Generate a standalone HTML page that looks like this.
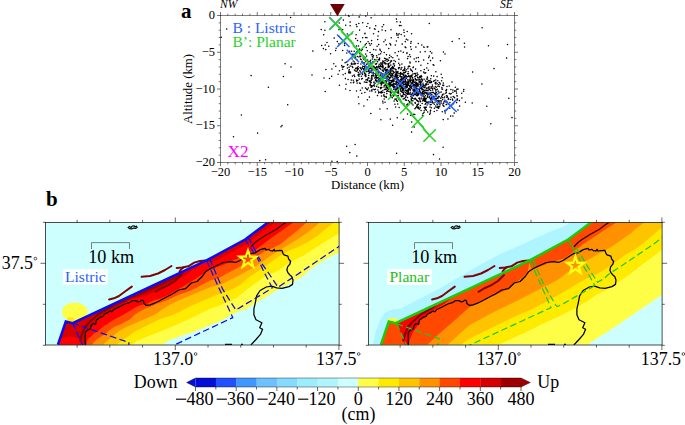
<!DOCTYPE html>
<html><head><meta charset="utf-8"><title>figure</title>
<style>
html,body{margin:0;padding:0;background:#fff;}
body{width:685px;height:425px;overflow:hidden;}
svg{display:block;}
text{font-family:"Liberation Serif",serif;}
</style></head><body>
<svg width="685" height="425" viewBox="0 0 685 425">
<rect width="685" height="425" fill="#fff"/>
<path d="M396.9 76.9h.01M395.0 84.0h.01M376.6 75.7h.01M433.0 92.2h.01M430.5 92.9h.01M413.2 86.5h.01M360.5 59.1h.01M417.2 85.2h.01M351.3 80.1h.01M376.8 78.2h.01M410.0 87.5h.01M413.8 94.7h.01M411.6 83.9h.01M390.1 62.8h.01M420.8 80.0h.01M383.1 83.3h.01M392.5 81.1h.01M419.7 88.5h.01M387.0 86.9h.01M392.2 68.3h.01M381.3 73.2h.01M408.5 100.6h.01M407.6 73.7h.01M347.4 65.0h.01M396.5 89.4h.01M415.1 89.7h.01M365.8 61.5h.01M423.0 83.2h.01M441.6 96.2h.01M401.0 95.8h.01M416.4 95.4h.01M385.9 89.4h.01M374.6 77.9h.01M429.7 114.2h.01M364.0 66.4h.01M442.4 94.5h.01M409.1 93.7h.01M375.4 63.9h.01M431.9 94.3h.01M410.0 82.9h.01M446.5 95.8h.01M417.6 84.9h.01M364.5 56.7h.01M429.2 89.7h.01M347.4 68.0h.01M418.5 107.7h.01M400.5 73.5h.01M372.4 56.7h.01M416.2 91.0h.01M412.8 82.0h.01M409.0 75.8h.01M383.1 80.2h.01M429.9 94.7h.01M381.7 66.7h.01M439.6 103.1h.01M364.9 70.3h.01M397.1 84.7h.01M436.1 107.2h.01M431.4 107.7h.01M383.2 70.3h.01M434.9 88.8h.01M411.7 86.4h.01M408.0 80.8h.01M398.3 79.7h.01M417.3 89.9h.01M424.2 87.4h.01M456.6 102.6h.01M389.4 82.4h.01M404.7 76.2h.01M394.4 77.1h.01M372.9 69.9h.01M413.4 86.1h.01M392.7 73.9h.01M407.8 91.1h.01M387.0 78.8h.01M395.8 82.0h.01M425.1 104.2h.01M403.4 75.3h.01M429.7 80.8h.01M355.6 68.6h.01M395.0 75.1h.01M426.3 107.3h.01M415.3 103.3h.01M410.6 75.9h.01M398.7 80.7h.01M423.7 91.2h.01M404.7 70.4h.01M429.0 97.4h.01M425.5 95.8h.01M407.9 79.5h.01M410.1 81.0h.01M356.5 80.0h.01M415.3 98.3h.01M369.9 85.0h.01M438.2 91.2h.01M438.2 107.2h.01M398.3 93.2h.01M427.6 79.0h.01M383.5 61.6h.01M427.8 95.8h.01M354.2 51.3h.01M397.5 87.8h.01M414.0 84.8h.01M438.6 108.2h.01M437.2 83.8h.01M440.1 100.8h.01M385.6 67.6h.01M405.5 84.1h.01M439.1 101.2h.01M355.4 57.4h.01M408.5 92.2h.01M404.5 76.9h.01M408.5 73.8h.01M403.8 74.7h.01M447.0 86.5h.01M387.0 69.5h.01M348.6 72.8h.01M353.3 54.2h.01M369.2 70.8h.01M396.8 82.0h.01M387.1 75.6h.01M449.9 102.6h.01M419.5 81.3h.01M392.7 92.1h.01M390.8 69.2h.01M356.3 71.2h.01M431.5 88.1h.01M404.9 77.3h.01M402.6 95.3h.01M358.3 72.4h.01M424.8 98.3h.01M375.5 80.6h.01M360.9 68.5h.01M371.8 68.3h.01M378.6 92.9h.01M420.4 93.8h.01M408.3 90.7h.01M425.3 86.0h.01M420.8 88.3h.01M439.7 92.6h.01M407.2 105.7h.01M430.2 82.7h.01M392.6 84.5h.01M447.9 118.9h.01M379.6 68.3h.01M451.9 104.9h.01M419.9 82.4h.01M377.6 74.9h.01M412.5 80.2h.01M400.5 85.1h.01M373.8 76.0h.01M426.1 92.5h.01M376.6 81.7h.01M420.2 86.5h.01M448.3 98.3h.01M402.0 78.9h.01M353.7 54.7h.01M408.4 93.1h.01M443.3 83.1h.01M362.5 74.4h.01M410.4 85.5h.01M388.2 87.6h.01M461.9 97.9h.01M365.9 82.2h.01M450.6 93.9h.01M453.2 96.6h.01M379.7 72.4h.01M342.1 67.0h.01M402.2 78.9h.01M382.3 77.1h.01M415.5 85.7h.01M419.7 88.9h.01M396.0 73.9h.01M400.7 91.1h.01M385.4 77.2h.01M399.6 81.4h.01M402.6 82.4h.01M394.3 92.7h.01M416.7 79.7h.01M413.0 90.0h.01M410.8 96.5h.01M351.8 63.2h.01M379.7 67.9h.01M379.5 59.9h.01M387.4 91.0h.01M383.4 71.5h.01M415.8 87.7h.01M443.9 93.9h.01M403.4 78.7h.01M449.3 93.5h.01M425.7 103.6h.01M400.5 76.3h.01M397.7 71.9h.01M420.9 82.8h.01M434.3 98.8h.01M395.8 73.0h.01M428.2 94.2h.01M371.6 69.9h.01M415.3 78.4h.01M423.0 92.0h.01M426.5 88.5h.01M407.7 85.6h.01M397.8 75.6h.01M371.9 77.8h.01M397.4 95.9h.01M383.9 95.7h.01M385.7 71.9h.01M416.9 90.3h.01M391.2 93.0h.01M452.4 99.1h.01M428.3 102.7h.01M391.2 96.8h.01M425.9 84.5h.01M351.4 64.1h.01M413.0 105.0h.01M350.0 73.1h.01M380.7 88.6h.01M403.7 82.1h.01M421.2 84.9h.01M445.9 90.3h.01M365.5 74.0h.01M370.3 81.4h.01M399.9 82.9h.01M409.9 102.1h.01M369.0 70.9h.01M395.7 84.3h.01M397.9 89.4h.01M421.9 88.4h.01M397.5 88.4h.01M376.1 73.1h.01M362.7 66.2h.01M401.5 96.7h.01M394.3 83.8h.01M416.3 83.7h.01M398.3 90.4h.01M398.0 82.9h.01M422.6 89.3h.01M378.4 87.3h.01M389.7 85.9h.01M372.1 73.0h.01M389.3 77.8h.01M414.6 92.8h.01M431.8 94.6h.01M382.9 73.8h.01M414.8 76.8h.01M425.5 84.3h.01M415.1 90.6h.01M412.1 98.1h.01M430.2 104.8h.01M415.6 69.1h.01M396.2 81.3h.01M433.1 96.0h.01M381.4 73.1h.01M419.9 84.2h.01M387.2 61.3h.01M446.5 101.4h.01M407.8 90.2h.01M437.4 104.7h.01M418.4 95.0h.01M385.9 70.6h.01M437.5 98.1h.01M386.7 70.0h.01M401.7 80.8h.01M446.3 90.8h.01M404.7 77.5h.01M384.7 77.3h.01M361.3 50.6h.01M434.4 108.3h.01M356.7 81.1h.01M431.8 100.1h.01M399.4 85.8h.01M395.3 91.5h.01M398.0 95.9h.01M401.2 80.6h.01M413.7 90.7h.01M378.5 72.9h.01M394.3 65.9h.01M422.1 93.0h.01M387.2 84.6h.01M375.9 76.8h.01M411.6 82.8h.01M424.1 72.7h.01M383.3 76.2h.01M388.7 76.9h.01M407.5 82.2h.01M396.9 78.3h.01M406.0 78.1h.01M348.8 71.0h.01M398.6 92.3h.01M376.3 67.6h.01M386.8 71.7h.01M422.9 89.3h.01M415.2 90.1h.01M364.4 69.1h.01M412.4 93.0h.01M401.9 76.7h.01M380.8 69.3h.01M449.8 108.2h.01M405.5 86.6h.01M444.1 97.7h.01M423.7 99.1h.01M401.6 83.8h.01M359.5 53.1h.01M420.3 107.8h.01M421.4 92.9h.01M415.2 85.6h.01M361.5 69.6h.01M439.9 104.5h.01M370.4 84.1h.01M370.6 68.1h.01M448.5 98.4h.01M386.0 83.8h.01M417.9 85.0h.01M371.2 82.6h.01M410.6 84.9h.01M366.6 71.6h.01M389.1 74.3h.01M398.7 83.3h.01M396.1 71.5h.01M437.9 101.7h.01M422.1 99.1h.01M406.4 78.5h.01M441.1 103.1h.01M400.7 81.5h.01M362.2 67.8h.01M385.3 73.6h.01M365.5 88.0h.01M403.9 82.1h.01M390.3 70.7h.01M392.8 85.9h.01M409.6 101.8h.01M383.9 76.8h.01M424.1 94.2h.01M408.1 92.5h.01M415.5 73.4h.01M385.0 76.9h.01M410.0 77.3h.01M362.2 87.9h.01M420.8 83.8h.01M408.3 84.0h.01M428.0 90.7h.01M442.3 111.7h.01M422.4 95.6h.01M433.7 76.1h.01M401.1 85.9h.01M386.0 85.4h.01M387.4 71.9h.01M403.2 83.7h.01M400.4 74.5h.01M414.7 90.3h.01M419.2 92.2h.01M376.1 59.7h.01M411.3 96.6h.01M431.9 92.5h.01M365.7 54.0h.01M413.8 80.1h.01M406.8 87.2h.01M364.0 59.4h.01M401.9 86.5h.01M411.6 87.0h.01M418.8 94.1h.01M394.1 101.0h.01M393.0 73.8h.01M436.4 101.1h.01M404.0 69.6h.01M395.8 74.4h.01M446.8 101.4h.01M432.4 102.7h.01M407.3 86.7h.01M408.8 75.8h.01M388.4 73.7h.01M375.6 68.6h.01M416.4 92.2h.01M411.1 102.2h.01M417.2 104.6h.01M381.7 81.0h.01M394.2 72.6h.01M402.9 88.0h.01M421.7 76.7h.01M403.4 80.9h.01M435.9 94.9h.01M402.4 80.0h.01M429.9 88.7h.01M391.3 89.6h.01M408.2 76.5h.01M369.7 80.7h.01M395.0 99.5h.01M393.7 84.7h.01M411.7 94.4h.01M377.3 77.7h.01M398.5 88.8h.01M404.8 77.8h.01M439.2 82.5h.01M379.8 79.0h.01M382.6 76.4h.01M411.5 100.5h.01M414.3 89.0h.01M354.4 62.0h.01M427.7 111.9h.01M424.2 90.7h.01M416.1 85.3h.01M436.0 99.6h.01M424.0 96.5h.01M418.8 98.3h.01M404.8 68.5h.01M413.4 89.9h.01M369.0 78.1h.01M410.3 78.2h.01M415.1 84.1h.01M405.4 72.3h.01M389.8 84.2h.01M425.9 92.8h.01M392.7 85.6h.01M397.3 76.0h.01M407.5 97.5h.01M414.0 86.9h.01M378.0 66.9h.01M393.5 83.6h.01M427.6 81.5h.01M385.2 72.9h.01M392.8 68.8h.01M387.5 70.3h.01M392.1 75.1h.01M397.4 88.3h.01M459.6 106.1h.01M361.1 59.4h.01M360.0 56.1h.01M387.1 76.5h.01M436.0 96.3h.01M359.5 82.9h.01M435.9 90.4h.01M383.1 68.1h.01M417.4 83.8h.01M428.4 87.4h.01M408.2 81.6h.01M393.4 80.1h.01M424.2 96.9h.01M430.0 102.5h.01M407.4 91.0h.01M404.0 91.2h.01M363.1 57.9h.01M408.3 91.7h.01M410.6 77.9h.01M375.7 74.4h.01M418.1 85.3h.01M386.2 97.5h.01M436.2 94.4h.01M401.5 86.3h.01M407.7 90.1h.01M372.3 79.0h.01M384.2 82.5h.01M373.3 66.3h.01M369.3 64.5h.01M376.2 70.2h.01M439.3 96.8h.01M382.8 75.7h.01M400.3 99.6h.01M386.4 76.1h.01M389.8 78.2h.01M424.1 85.4h.01M428.1 88.7h.01M394.3 80.9h.01M393.8 83.5h.01M391.6 96.1h.01M393.1 80.5h.01M376.0 73.7h.01M415.2 90.7h.01M390.6 96.6h.01M414.9 91.9h.01M425.9 89.9h.01M400.7 88.9h.01M417.4 94.6h.01M406.3 90.4h.01M409.9 79.8h.01M378.6 74.8h.01M418.9 89.2h.01M441.6 80.8h.01M371.6 89.9h.01M429.9 80.4h.01M429.3 87.0h.01M383.2 83.1h.01M422.7 100.8h.01M350.5 72.7h.01M381.4 82.5h.01M405.7 92.5h.01M436.7 98.4h.01M377.4 61.6h.01M387.2 75.8h.01M400.7 86.3h.01M408.4 93.0h.01M365.9 76.6h.01M401.6 83.2h.01M417.2 88.8h.01M378.6 81.2h.01M345.1 62.7h.01M416.7 84.7h.01M398.2 84.0h.01M427.0 93.7h.01M423.6 86.9h.01M412.0 75.4h.01M385.6 80.7h.01M377.9 81.8h.01M449.2 86.0h.01M404.5 79.4h.01M436.0 89.8h.01M430.0 107.0h.01M386.5 73.3h.01M440.6 98.3h.01M378.0 77.6h.01M381.7 83.9h.01M439.9 105.0h.01M409.7 66.4h.01M434.7 93.7h.01M387.1 74.0h.01M447.2 96.0h.01M435.9 96.5h.01M415.1 91.0h.01M417.7 77.8h.01M363.8 69.1h.01M406.6 91.1h.01M396.4 74.1h.01M457.4 100.0h.01M405.6 100.0h.01M453.6 103.7h.01M397.5 92.7h.01M396.9 92.2h.01M405.5 80.8h.01M403.8 81.9h.01M384.1 63.1h.01M378.7 91.8h.01M394.6 88.1h.01M374.0 76.0h.01M405.9 96.6h.01M403.1 70.7h.01M419.7 92.4h.01M405.1 86.2h.01M403.2 77.3h.01M398.6 90.9h.01M417.4 95.8h.01M413.1 67.6h.01M370.5 81.9h.01M353.2 60.9h.01M378.9 92.4h.01M364.6 63.0h.01M380.2 78.6h.01M415.3 76.3h.01M457.1 96.1h.01M406.5 83.9h.01M454.7 91.3h.01M395.3 76.8h.01M409.9 86.5h.01M384.4 89.4h.01M382.8 90.8h.01M436.4 92.5h.01M374.5 59.6h.01M419.5 109.0h.01M453.7 96.8h.01M452.9 115.9h.01M417.6 86.0h.01M408.0 84.6h.01M425.2 107.3h.01M364.4 82.0h.01M385.2 82.9h.01M412.7 85.6h.01M400.7 89.7h.01M393.4 71.4h.01M422.7 91.2h.01M398.5 67.7h.01M388.4 72.2h.01M431.9 98.3h.01M420.4 101.8h.01M429.6 93.0h.01M362.0 61.5h.01M382.5 63.9h.01M383.4 78.0h.01M408.5 89.6h.01M407.1 91.1h.01M419.9 91.0h.01M433.1 96.0h.01M354.9 64.1h.01M418.0 80.1h.01M378.3 59.7h.01M400.4 76.7h.01M388.6 89.1h.01M434.2 88.1h.01M445.8 93.2h.01M381.3 91.4h.01M382.5 82.5h.01M382.3 70.4h.01M409.9 89.6h.01M406.2 86.9h.01M410.2 80.0h.01M425.3 99.7h.01M366.6 56.1h.01M408.7 76.0h.01M357.2 69.1h.01M398.0 95.9h.01M390.7 72.4h.01M436.0 82.3h.01M374.5 86.1h.01M419.0 81.7h.01M402.9 96.6h.01M425.5 85.7h.01M415.2 93.7h.01M412.7 80.6h.01M381.1 93.0h.01M412.4 83.4h.01M405.3 76.7h.01M386.2 78.3h.01M395.8 75.9h.01M443.7 102.9h.01M461.7 93.2h.01M425.0 87.5h.01M448.6 104.2h.01M395.6 91.4h.01M419.0 77.9h.01M417.6 86.1h.01M397.3 80.3h.01M367.6 60.1h.01M387.5 88.5h.01M379.3 82.6h.01M428.3 84.3h.01M368.9 61.8h.01M423.8 98.1h.01M360.0 74.1h.01M386.3 74.3h.01M385.9 96.7h.01M403.2 98.9h.01M422.2 103.4h.01M380.8 83.5h.01M391.9 67.4h.01M426.7 88.0h.01M405.5 99.9h.01M386.4 82.8h.01M377.7 69.3h.01M380.0 81.8h.01M367.5 89.6h.01M422.2 79.3h.01M403.5 93.7h.01M435.4 94.4h.01M431.6 81.6h.01M430.6 99.5h.01M432.6 88.7h.01M359.8 70.8h.01M363.8 69.6h.01M413.9 98.8h.01M351.6 51.3h.01M416.9 75.8h.01M370.3 61.1h.01M463.8 89.5h.01M397.3 79.4h.01M401.2 74.0h.01M430.0 94.2h.01M368.3 63.3h.01M391.6 73.7h.01M414.4 73.4h.01M430.8 99.7h.01M417.1 73.1h.01M389.2 74.6h.01M437.9 86.2h.01M411.5 100.2h.01M369.3 68.4h.01M382.8 65.4h.01M417.1 105.7h.01M380.8 73.8h.01M388.4 79.9h.01M411.9 95.5h.01M412.4 94.0h.01M389.3 73.7h.01M387.7 75.4h.01M444.7 100.7h.01M400.6 76.3h.01M395.9 71.1h.01M369.9 65.1h.01M385.8 84.9h.01M446.4 109.7h.01M451.0 97.2h.01M437.5 107.3h.01M438.7 84.7h.01M398.5 83.7h.01M388.7 84.5h.01M415.0 85.9h.01M412.4 71.6h.01M394.9 76.5h.01M437.6 107.6h.01M435.7 79.9h.01M362.4 78.4h.01M368.4 87.9h.01M408.0 103.9h.01M420.1 77.3h.01M358.0 69.3h.01M353.6 57.1h.01M381.5 78.2h.01M405.3 80.0h.01M392.9 80.0h.01M387.9 77.1h.01M371.0 70.9h.01M349.0 67.3h.01M453.3 103.6h.01M369.4 68.3h.01M370.8 87.0h.01M384.9 70.0h.01M411.9 88.7h.01M373.9 82.8h.01M438.8 96.2h.01M369.8 91.0h.01M371.2 72.3h.01M407.1 87.4h.01M390.1 92.1h.01M379.6 58.8h.01M384.7 68.9h.01M356.1 68.1h.01M412.4 78.1h.01M374.1 67.0h.01M409.9 94.0h.01M411.8 96.3h.01M380.8 75.5h.01M370.6 85.2h.01M393.2 73.1h.01M395.4 69.2h.01M366.9 82.3h.01M444.6 97.1h.01M424.5 100.7h.01M424.3 90.3h.01M419.4 90.6h.01M432.0 102.0h.01M371.6 85.7h.01M430.5 102.3h.01M371.2 80.4h.01M386.0 89.5h.01M392.3 85.9h.01M384.2 85.8h.01M401.5 88.0h.01M405.9 83.0h.01M403.9 105.4h.01M385.2 84.7h.01M417.5 105.0h.01M382.1 78.7h.01M396.3 72.2h.01M393.4 71.2h.01M357.1 83.1h.01M435.9 93.3h.01M415.4 88.0h.01M411.0 99.0h.01M425.5 98.3h.01M428.6 93.6h.01M345.3 73.4h.01M431.6 97.0h.01M392.3 77.7h.01M388.9 83.8h.01M405.2 83.8h.01M442.6 99.6h.01M458.0 89.1h.01M451.2 93.4h.01M406.0 84.1h.01M395.9 88.3h.01M398.2 88.4h.01M447.4 96.9h.01M383.9 94.8h.01M399.3 86.7h.01M369.4 81.6h.01M400.7 84.7h.01M440.9 98.1h.01M405.3 88.7h.01M390.8 65.1h.01M434.3 80.5h.01M392.8 79.9h.01M381.8 66.6h.01M366.8 64.4h.01M435.8 84.0h.01M380.6 64.9h.01M380.6 82.5h.01M370.6 60.3h.01M444.0 106.3h.01M380.7 78.5h.01M381.7 92.8h.01M388.0 67.0h.01M450.9 105.9h.01M382.0 80.7h.01M354.8 56.3h.01M376.6 63.6h.01M352.4 76.1h.01M407.2 93.2h.01M422.9 92.1h.01M372.8 66.3h.01M418.2 108.5h.01M452.3 99.2h.01M416.2 107.2h.01M381.7 79.1h.01M425.9 107.3h.01M371.9 91.1h.01M396.8 78.5h.01M355.2 70.7h.01M420.8 76.3h.01M418.7 93.4h.01M367.6 79.0h.01M384.8 75.6h.01M406.2 69.7h.01M406.2 95.7h.01M446.3 92.5h.01M402.4 90.8h.01M348.9 72.3h.01M423.7 100.1h.01M367.6 68.2h.01M410.5 81.5h.01M424.1 79.3h.01M382.9 66.9h.01M378.0 67.7h.01M407.6 83.8h.01M427.7 94.3h.01M434.5 88.5h.01M403.8 89.9h.01M380.3 80.2h.01M396.6 81.9h.01M419.7 99.1h.01M382.1 78.9h.01M403.8 94.4h.01M443.1 105.6h.01M402.8 81.5h.01M409.1 81.0h.01M410.0 85.5h.01M349.3 69.6h.01M409.6 88.7h.01M378.3 79.9h.01M456.8 89.3h.01M404.7 72.7h.01M353.4 82.8h.01M386.3 85.9h.01M387.8 76.4h.01M404.3 82.1h.01M404.2 75.9h.01M445.2 112.9h.01M405.5 87.7h.01M406.5 100.2h.01M416.7 87.9h.01M389.6 86.1h.01M361.4 76.3h.01M422.4 86.8h.01M403.1 79.4h.01M386.2 76.8h.01M404.9 79.7h.01M399.7 84.3h.01M396.3 87.7h.01M434.3 111.5h.01M423.3 84.4h.01M456.5 93.1h.01M418.7 101.7h.01M379.8 72.4h.01M412.1 97.6h.01M390.5 83.0h.01M404.8 81.7h.01M390.4 90.9h.01M440.3 84.0h.01M402.6 74.3h.01M416.0 83.2h.01M412.4 95.2h.01M420.6 81.7h.01M384.6 58.2h.01M463.6 91.2h.01M457.4 99.0h.01M391.1 85.2h.01M380.8 74.3h.01M403.4 78.0h.01M421.6 87.2h.01M408.6 88.5h.01M396.1 89.3h.01M406.7 85.9h.01M407.8 94.3h.01M403.3 83.9h.01M414.6 99.0h.01M416.4 80.3h.01M416.7 93.2h.01M388.2 80.6h.01M426.5 78.9h.01M395.7 87.4h.01M412.7 86.2h.01M375.5 80.2h.01M401.5 77.3h.01M367.0 79.5h.01M411.3 99.2h.01M406.1 82.1h.01M395.8 91.0h.01M399.4 85.9h.01M408.2 94.3h.01M425.6 109.2h.01M397.4 81.9h.01M425.6 99.1h.01M414.7 94.3h.01M427.4 77.5h.01M392.8 76.0h.01M380.6 66.0h.01M434.4 96.5h.01M373.2 68.5h.01M436.2 87.2h.01M417.7 107.5h.01M388.6 65.0h.01M373.1 61.5h.01M454.6 97.7h.01M430.8 98.5h.01M369.1 71.7h.01M396.6 82.1h.01M420.1 92.5h.01M408.5 82.4h.01M407.9 68.7h.01M414.1 87.9h.01M394.5 86.8h.01M438.3 96.9h.01M371.5 77.0h.01M397.0 86.0h.01M427.1 104.9h.01M415.6 87.9h.01M370.9 70.9h.01M401.2 78.7h.01M391.1 76.6h.01M354.2 75.0h.01M426.3 83.7h.01M399.7 88.6h.01M424.0 112.5h.01M383.0 69.8h.01M416.0 99.3h.01M356.6 51.9h.01M403.2 92.8h.01M406.5 77.1h.01M414.9 108.8h.01M416.7 106.6h.01M433.7 92.7h.01M405.6 75.3h.01M382.7 82.8h.01M391.9 80.5h.01M374.8 68.4h.01M416.7 89.1h.01M446.2 104.6h.01M435.0 102.2h.01M415.8 107.7h.01M406.7 87.4h.01M386.9 83.6h.01M390.4 86.1h.01M341.7 65.4h.01M385.7 82.3h.01M373.4 73.7h.01M422.1 94.3h.01M393.4 67.5h.01M431.1 86.7h.01M431.7 98.8h.01M402.2 73.4h.01M386.9 78.9h.01M413.3 84.8h.01M397.9 72.9h.01M399.7 76.0h.01M432.7 89.9h.01M417.8 101.2h.01M365.1 75.0h.01M419.6 76.6h.01M370.5 68.3h.01M376.9 80.8h.01M397.0 75.2h.01M411.6 76.5h.01M378.7 66.1h.01M427.0 93.2h.01M412.9 93.5h.01M371.7 75.6h.01M394.5 65.2h.01M408.4 83.4h.01M419.3 98.1h.01M427.7 90.5h.01M363.7 62.8h.01M418.2 86.0h.01M442.9 104.1h.01M418.1 83.2h.01M382.0 64.4h.01M359.2 79.1h.01M412.4 98.3h.01M393.6 96.1h.01M400.2 93.9h.01M406.1 100.0h.01M413.1 90.8h.01M403.5 85.1h.01M401.2 96.1h.01M375.7 77.6h.01M406.9 104.7h.01M379.7 80.7h.01M375.0 69.9h.01M395.6 89.1h.01M378.5 66.8h.01M386.4 72.0h.01M407.8 104.1h.01M373.2 72.3h.01M413.7 81.1h.01M426.8 83.9h.01M391.4 81.6h.01M421.3 95.6h.01M425.0 108.1h.01M418.9 92.2h.01M352.9 54.9h.01M410.4 87.0h.01M371.9 76.2h.01M439.6 106.7h.01M369.7 72.2h.01M388.6 87.1h.01M383.1 66.3h.01M370.1 52.5h.01M384.0 87.0h.01M424.8 87.6h.01M376.7 66.6h.01M350.1 71.8h.01M431.2 97.9h.01M369.1 65.8h.01M426.4 93.8h.01M352.8 67.5h.01M415.7 82.0h.01M450.5 105.7h.01M389.1 79.0h.01M431.1 104.4h.01M421.1 97.9h.01M416.5 83.1h.01M370.3 72.0h.01M410.4 81.6h.01M374.0 82.1h.01M396.2 83.6h.01M365.3 60.3h.01M392.5 66.4h.01M424.8 92.8h.01M417.8 100.7h.01M391.5 85.1h.01M368.3 70.2h.01M402.9 70.6h.01M376.1 77.9h.01M414.6 85.0h.01M401.2 88.0h.01M416.4 86.2h.01M352.1 66.4h.01M361.6 78.9h.01M406.1 84.9h.01M402.2 92.2h.01M393.7 89.2h.01M414.5 82.3h.01M452.9 92.2h.01M379.1 79.0h.01M378.1 71.4h.01M457.1 99.1h.01M339.4 70.7h.01M369.3 65.9h.01M403.1 81.4h.01M446.8 109.6h.01M385.9 58.7h.01M408.6 93.9h.01M343.1 74.7h.01M406.5 76.2h.01M396.1 88.1h.01M388.5 60.4h.01M355.6 63.6h.01M404.7 79.1h.01M392.9 75.5h.01M423.3 93.7h.01M389.3 80.5h.01M375.7 75.3h.01M394.7 78.9h.01M441.9 87.4h.01M392.2 74.2h.01M412.4 80.8h.01M403.5 81.9h.01M387.0 85.3h.01M429.5 82.5h.01M421.1 87.3h.01M407.7 90.4h.01M356.8 59.4h.01M405.5 90.5h.01M380.6 63.1h.01M359.8 50.2h.01M382.9 76.4h.01M389.1 77.2h.01M394.0 87.7h.01M428.1 101.7h.01M390.3 73.9h.01M386.3 81.7h.01M410.3 90.7h.01M368.5 71.4h.01M401.8 67.6h.01M376.0 64.2h.01M380.0 78.4h.01M394.2 78.2h.01M430.8 78.7h.01M389.5 66.2h.01M431.2 87.8h.01M384.8 68.4h.01M400.3 79.8h.01M397.1 75.6h.01M435.4 86.5h.01M399.8 73.5h.01M437.6 107.0h.01M436.9 110.5h.01M418.4 84.8h.01M442.4 97.4h.01M386.6 85.3h.01M371.3 64.3h.01M393.4 87.2h.01M413.7 95.8h.01M388.9 83.0h.01M450.9 89.5h.01M392.7 95.0h.01M409.6 86.2h.01M413.2 82.9h.01M396.5 72.9h.01M425.0 91.0h.01M389.7 83.5h.01M416.9 100.2h.01M395.3 88.3h.01M366.9 64.1h.01M401.5 83.3h.01M420.4 105.4h.01M401.2 80.8h.01M420.6 101.6h.01M421.8 89.7h.01M441.9 89.0h.01M423.7 72.1h.01M400.6 87.3h.01M389.9 87.9h.01M395.1 98.9h.01M401.2 79.5h.01M427.3 97.3h.01M436.9 104.0h.01M392.3 97.8h.01M379.2 82.2h.01M442.6 95.1h.01M375.1 68.1h.01M413.8 90.7h.01M401.7 86.5h.01M382.3 92.4h.01M403.8 72.6h.01M438.4 101.0h.01M382.0 77.8h.01M426.5 90.4h.01M388.0 74.9h.01M398.3 77.6h.01M386.8 91.4h.01M406.0 78.4h.01M373.0 73.2h.01M423.6 96.0h.01M391.6 60.9h.01M426.8 84.3h.01M382.7 61.0h.01M357.4 70.8h.01M425.5 80.9h.01M375.8 79.5h.01M401.0 101.3h.01M420.4 86.0h.01M392.2 74.9h.01M423.1 89.4h.01M420.4 77.2h.01M390.2 77.6h.01M391.8 70.2h.01M393.0 75.9h.01M405.8 84.7h.01M446.1 102.2h.01M441.2 91.9h.01M435.5 98.8h.01M428.3 87.4h.01M387.1 75.4h.01M398.6 82.8h.01M433.3 103.0h.01M353.3 80.3h.01M388.4 84.3h.01M404.2 79.5h.01M448.3 99.5h.01M411.6 94.4h.01M421.2 79.1h.01M430.3 113.1h.01M429.9 80.5h.01M418.5 104.1h.01M396.0 76.1h.01M410.1 94.5h.01M382.3 67.1h.01M372.4 58.9h.01M403.5 81.7h.01M366.0 74.9h.01M415.1 102.5h.01M450.7 116.1h.01M370.9 71.0h.01M416.7 83.0h.01M391.9 81.7h.01M394.2 86.0h.01M409.0 85.2h.01M386.8 75.4h.01M401.5 84.3h.01M424.9 108.7h.01M405.1 94.8h.01M398.6 68.8h.01M374.0 73.6h.01M389.9 70.3h.01M371.7 87.1h.01M414.1 91.9h.01M397.3 72.1h.01M378.2 77.7h.01M407.1 82.1h.01M392.1 70.4h.01M458.0 110.0h.01M443.2 119.6h.01M436.9 100.9h.01M404.5 87.9h.01M381.8 87.4h.01M396.0 69.6h.01M430.1 98.3h.01M386.3 84.0h.01M377.1 57.4h.01M419.4 89.7h.01M386.3 86.9h.01M438.1 91.2h.01M380.8 66.3h.01M375.8 67.5h.01M376.2 77.3h.01M416.1 85.5h.01M425.3 100.8h.01M446.6 89.4h.01M403.2 80.1h.01M381.7 77.1h.01M368.6 69.7h.01M411.4 75.3h.01M428.8 87.1h.01M392.1 81.9h.01M394.0 78.6h.01M355.1 58.1h.01M360.4 71.9h.01M401.0 88.1h.01M444.2 101.6h.01M445.9 90.7h.01M390.6 75.6h.01M434.2 99.7h.01M402.5 89.1h.01M402.4 87.2h.01M407.3 76.8h.01M438.1 97.0h.01M409.9 79.2h.01M391.3 89.2h.01M427.5 102.6h.01M422.8 100.9h.01M445.5 110.8h.01M428.5 80.7h.01M382.2 62.4h.01M375.5 89.3h.01M422.7 85.7h.01M399.7 85.7h.01M391.4 82.3h.01M354.5 70.0h.01M452.9 90.1h.01M390.6 85.8h.01M415.5 79.6h.01M416.8 100.4h.01M406.6 84.4h.01M442.6 89.2h.01M419.3 79.6h.01M390.5 44.6h.01M381.8 63.7h.01M415.1 102.9h.01M358.4 96.9h.01M397.3 78.8h.01M385.6 63.2h.01M325.8 49.6h.01M393.4 81.4h.01M429.4 55.9h.01M372.1 86.2h.01M374.1 66.6h.01M405.1 97.8h.01M416.9 105.8h.01M421.4 78.9h.01M421.8 44.9h.01M383.1 75.3h.01M413.4 67.1h.01M352.3 54.2h.01M373.5 55.7h.01M435.9 92.1h.01M390.4 71.3h.01M411.3 80.0h.01M375.1 83.2h.01M395.1 52.8h.01M398.5 51.5h.01M401.0 79.4h.01M335.8 66.2h.01M423.0 113.5h.01M353.9 82.0h.01M379.5 57.9h.01M397.3 117.8h.01M434.4 104.2h.01M385.3 40.0h.01M381.5 95.9h.01M367.4 80.1h.01M358.5 68.7h.01M422.5 80.8h.01M362.1 61.3h.01M398.7 63.2h.01M385.3 63.9h.01M459.4 100.6h.01M360.7 56.6h.01M364.7 72.0h.01M400.7 72.4h.01M389.3 57.7h.01M377.5 95.6h.01M417.6 93.0h.01M426.2 102.2h.01M412.6 77.6h.01M366.9 37.7h.01M339.3 36.5h.01M430.2 81.1h.01M410.3 92.7h.01M393.7 71.8h.01M410.5 69.0h.01M381.2 85.1h.01M377.6 61.7h.01M331.7 76.2h.01M375.8 80.0h.01M380.1 75.8h.01M403.4 119.3h.01M386.1 63.8h.01M416.0 61.6h.01M418.5 106.9h.01M410.2 89.5h.01M377.7 39.5h.01M366.9 82.4h.01M373.8 85.2h.01M426.8 82.0h.01M439.4 86.4h.01M380.3 50.2h.01M368.7 75.4h.01M387.5 73.0h.01M426.0 101.2h.01M403.4 80.7h.01M345.4 78.6h.01M388.3 66.1h.01M405.9 71.6h.01M391.0 84.0h.01M399.1 98.3h.01M347.8 64.5h.01M343.9 66.5h.01M365.1 75.8h.01M385.6 88.9h.01M367.4 99.7h.01M391.0 92.7h.01M368.8 61.5h.01M312.9 51.1h.01M396.2 75.2h.01M346.8 52.9h.01M390.5 94.3h.01M415.7 86.0h.01M390.0 83.7h.01M410.5 81.0h.01M431.5 82.4h.01M371.4 71.8h.01M419.0 93.6h.01M408.2 71.7h.01M370.8 113.4h.01M398.1 73.8h.01M391.6 90.5h.01M429.8 93.4h.01M367.8 80.2h.01M396.4 99.0h.01M374.5 28.8h.01M441.2 74.3h.01M439.8 82.9h.01M347.3 33.9h.01M435.1 83.1h.01M339.0 29.6h.01M432.4 101.5h.01M401.9 64.0h.01M397.3 55.8h.01M399.8 64.9h.01M385.0 102.3h.01M410.4 56.8h.01M440.4 60.7h.01M406.0 93.1h.01M379.9 109.0h.01M392.8 57.8h.01M325.2 44.9h.01M427.8 63.4h.01M358.6 75.2h.01M325.9 69.5h.01M423.7 46.9h.01M365.6 37.5h.01M402.7 89.7h.01M391.9 71.1h.01M472.6 71.9h.01M465.4 102.3h.01M433.1 64.7h.01M411.3 76.1h.01M383.8 80.5h.01M366.8 26.5h.01M363.9 105.9h.01M400.7 79.7h.01M410.6 46.7h.01M387.3 79.0h.01M368.6 66.6h.01M379.9 66.6h.01M378.5 31.6h.01M425.7 72.7h.01M420.9 70.7h.01M423.7 60.0h.01M433.9 65.3h.01M376.5 69.4h.01M375.9 49.9h.01M415.8 94.4h.01M424.2 110.8h.01M393.9 63.6h.01M394.0 68.6h.01M432.4 85.1h.01M362.4 49.4h.01M390.2 72.6h.01M364.9 92.4h.01M350.3 66.0h.01M421.1 110.5h.01M373.0 57.3h.01M324.9 21.8h.01M372.5 54.6h.01M379.2 64.3h.01M395.8 77.1h.01M324.0 77.9h.01M400.9 50.9h.01M378.8 59.6h.01M401.0 69.5h.01M413.8 114.3h.01M400.0 82.3h.01M376.6 86.5h.01M360.3 83.5h.01M446.8 97.3h.01M409.4 102.1h.01M407.0 52.7h.01M384.2 92.5h.01M377.9 89.9h.01M346.4 62.0h.01M374.1 84.7h.01M357.8 80.5h.01M409.7 54.7h.01M401.2 34.4h.01M342.7 50.4h.01M354.5 63.8h.01M399.6 67.4h.01M424.7 99.8h.01M351.5 63.2h.01M397.0 91.6h.01M432.7 58.1h.01M349.6 51.3h.01M411.7 122.0h.01M397.5 82.3h.01M356.1 34.8h.01M396.1 86.8h.01M411.1 70.3h.01M421.1 75.6h.01M397.4 101.3h.01M379.9 68.2h.01M373.1 89.2h.01M336.1 48.2h.01M389.5 86.3h.01M373.0 85.8h.01M367.9 67.9h.01M376.6 55.8h.01M388.9 71.7h.01M414.2 59.0h.01M413.3 79.5h.01M381.7 87.6h.01M386.3 59.6h.01M397.0 85.4h.01M339.4 85.3h.01M409.9 62.1h.01M394.9 104.3h.01M387.2 69.2h.01M365.6 58.0h.01M380.3 87.6h.01M358.5 45.9h.01M397.7 95.7h.01M366.3 47.4h.01M409.4 88.6h.01M441.3 101.1h.01M366.3 43.4h.01M388.9 67.4h.01M386.8 93.6h.01M353.3 64.0h.01M430.4 111.1h.01M437.4 89.3h.01M358.9 57.0h.01M404.4 98.5h.01M327.0 42.4h.01M360.1 54.0h.01M330.6 53.8h.01M356.5 91.0h.01M386.0 69.7h.01M366.6 89.1h.01M387.2 108.7h.01M412.9 74.1h.01M452.0 81.9h.01M405.6 75.7h.01M384.2 99.0h.01M442.7 85.3h.01M375.5 91.9h.01M443.4 85.5h.01M359.4 49.1h.01M452.7 100.3h.01M402.4 88.0h.01M379.9 49.3h.01M394.0 60.5h.01M387.8 59.3h.01M411.9 103.8h.01M357.9 63.4h.01M420.9 81.6h.01M422.5 115.3h.01M403.9 92.8h.01M397.9 71.5h.01M360.1 67.4h.01M357.3 56.4h.01M362.1 73.5h.01M394.9 89.8h.01M424.6 101.3h.01M421.4 81.7h.01M358.1 66.4h.01M363.4 71.4h.01M396.4 41.0h.01M390.0 43.5h.01M397.7 103.9h.01M323.7 34.7h.01M334.2 38.1h.01M427.8 82.1h.01M384.1 77.4h.01M398.6 84.3h.01M373.0 75.3h.01M425.4 101.3h.01M396.6 100.4h.01M360.4 90.3h.01M390.9 61.5h.01M398.8 88.1h.01M409.5 89.5h.01M406.2 75.8h.01M392.6 125.2h.01M356.5 46.0h.01M404.5 35.9h.01M381.3 82.3h.01M443.7 85.2h.01M456.2 91.1h.01M391.0 60.8h.01M364.5 73.4h.01M373.4 72.5h.01M413.9 93.9h.01M399.3 88.4h.01M387.1 70.2h.01M365.3 44.7h.01M408.1 56.5h.01M427.3 77.0h.01M380.3 92.5h.01M382.4 80.9h.01M397.2 86.9h.01M426.4 98.7h.01M391.2 56.8h.01M384.3 96.6h.01M404.2 84.4h.01M328.7 46.3h.01M354.0 75.2h.01M409.8 76.7h.01M398.2 34.9h.01M401.6 91.6h.01M399.1 80.8h.01M312.0 74.9h.01M362.7 22.8h.01M384.8 78.2h.01M381.4 51.8h.01M405.1 46.9h.01M428.7 57.6h.01M391.4 67.9h.01M377.6 73.2h.01M333.8 63.8h.01M358.0 74.9h.01M432.7 86.7h.01M437.1 76.6h.01M428.4 70.2h.01M378.9 54.4h.01M378.7 80.8h.01M445.0 53.9h.01M373.5 33.7h.01M412.9 100.8h.01M403.7 72.9h.01M401.9 86.6h.01M352.1 59.0h.01M425.1 73.2h.01M420.9 65.3h.01M360.9 64.0h.01M410.1 63.0h.01M401.0 68.9h.01M411.1 41.6h.01M323.4 48.6h.01M472.2 103.0h.01M335.6 50.4h.01M342.6 69.3h.01M411.3 49.3h.01M411.7 70.2h.01M426.0 85.2h.01M364.8 66.6h.01M401.2 84.7h.01M369.0 73.5h.01M338.1 74.3h.01M387.2 80.8h.01M403.3 52.3h.01M401.7 80.1h.01M348.1 79.4h.01M398.4 95.4h.01M398.7 99.5h.01M396.2 78.7h.01M421.2 95.0h.01M382.4 66.9h.01M405.8 47.6h.01M380.7 81.7h.01M385.7 63.7h.01M404.6 66.9h.01M365.8 16.0h.01M450.3 99.5h.01M355.4 57.9h.01M390.3 119.1h.01M382.8 101.2h.01M416.4 58.0h.01M414.8 114.5h.01M442.2 77.7h.01M384.5 62.6h.01M438.1 100.6h.01M388.2 85.1h.01M414.2 127.1h.01M430.6 110.2h.01M410.6 115.2h.01M358.9 74.2h.01M407.5 113.9h.01M407.2 94.2h.01M429.5 96.7h.01M406.6 84.8h.01M446.6 104.5h.01M405.3 41.6h.01M399.6 65.0h.01M370.6 63.1h.01M321.7 45.4h.01M361.8 93.3h.01M355.7 38.4h.01M395.6 107.0h.01M444.9 110.5h.01M382.5 66.9h.01M345.6 89.0h.01M377.1 46.2h.01M411.7 114.7h.01M430.7 90.4h.01M408.6 81.2h.01M398.7 98.1h.01M359.0 76.3h.01M385.1 60.6h.01M365.0 33.2h.01M368.5 77.8h.01M417.6 77.2h.01M374.5 89.8h.01M350.0 90.4h.01M435.9 71.7h.01M454.8 90.8h.01M408.2 67.0h.01M420.7 92.2h.01M418.3 43.4h.01M329.5 78.4h.01M367.3 50.8h.01M427.6 96.5h.01M413.3 85.1h.01M398.3 88.8h.01M391.6 75.5h.01M443.4 51.9h.01M338.9 43.8h.01M398.9 59.2h.01M431.3 75.8h.01M411.5 102.2h.01M350.1 25.7h.01M424.1 107.3h.01M437.8 80.7h.01M321.2 29.4h.01M369.3 43.4h.01M365.9 79.9h.01M342.3 60.0h.01M420.0 100.1h.01M348.5 15.6h.01M455.4 87.3h.01M367.2 89.7h.01M344.6 45.5h.01M426.3 110.3h.01M390.6 80.5h.01M387.8 64.0h.01M454.2 113.1h.01M426.8 67.9h.01M382.5 74.7h.01M357.5 40.4h.01M371.3 80.3h.01M388.7 91.3h.01M357.5 67.7h.01M438.0 98.1h.01M399.1 107.5h.01M343.4 20.1h.01M369.4 97.1h.01M393.3 64.0h.01M331.9 69.0h.01M394.4 94.8h.01M424.3 69.4h.01M403.5 88.7h.01M386.7 86.0h.01M390.5 68.7h.01M389.7 55.3h.01M409.0 66.0h.01M411.2 88.0h.01M384.2 52.5h.01M415.7 75.0h.01M371.4 54.8h.01M416.4 89.0h.01M427.8 46.7h.01M337.3 41.6h.01M346.1 84.3h.01M388.8 63.4h.01M386.1 96.4h.01M343.1 67.1h.01M387.2 90.2h.01M356.9 26.6h.01M364.9 67.8h.01M371.1 78.9h.01M391.7 81.4h.01M404.0 103.9h.01M358.8 23.5h.01M395.4 61.6h.01M433.7 81.2h.01M383.0 102.9h.01M348.4 38.7h.01M417.9 74.6h.01M325.2 91.4h.01M350.9 82.7h.01M390.5 95.4h.01M438.4 106.6h.01M380.6 53.8h.01M396.7 95.4h.01M431.8 53.1h.01M351.8 64.5h.01M350.6 40.6h.01M399.1 33.7h.01M406.3 39.2h.01M362.7 37.8h.01M359.2 17.0h.01M386.5 54.7h.01M407.2 31.4h.01M378.7 44.6h.01M418.7 61.6h.01M373.7 49.5h.01M347.2 36.9h.01M411.6 33.8h.01M368.1 41.8h.01M382.1 30.0h.01M342.7 29.7h.01M382.2 26.8h.01M385.5 30.7h.01M344.5 43.8h.01M386.3 44.7h.01M378.0 36.0h.01M390.7 45.0h.01M415.9 47.1h.01M396.7 33.4h.01M407.8 40.0h.01M339.2 23.0h.01M427.2 47.1h.01M396.9 35.1h.01M364.9 33.8h.01M371.1 17.8h.01M396.9 21.8h.01M400.4 22.1h.01M388.8 48.4h.01M424.1 47.2h.01M410.8 43.2h.01M375.1 29.3h.01M351.8 33.8h.01M359.6 30.1h.01M350.1 22.1h.01M396.4 19.1h.01M425.1 51.6h.01M402.2 44.1h.01M391.2 37.8h.01M369.8 28.1h.01M349.0 16.2h.01M371.6 40.6h.01M375.7 25.7h.01M367.9 23.4h.01M401.0 25.6h.01M356.3 24.6h.01M399.5 25.6h.01M391.0 29.8h.01M345.7 25.2h.01M420.3 52.0h.01M430.5 60.6h.01M370.1 45.2h.01M398.1 37.5h.01M430.3 51.4h.01M371.4 43.8h.01M383.6 24.8h.01M403.9 30.1h.01M512.0 117.6h.01M233.5 136.7h.01M324.9 30.3h.01M457.0 95.6h.01M359.1 16.9h.01M488.5 45.7h.01M360.5 41.7h.01M386.1 87.8h.01M282.0 125.5h.01M226.7 28.9h.01M429.3 23.5h.01M508.8 98.3h.01M435.8 106.0h.01M459.2 38.8h.01M259.8 160.6h.01M283.4 76.5h.01M331.9 161.2h.01M464.6 47.0h.01M356.8 156.1h.01M481.9 84.0h.01M241.4 115.0h.01M404.1 32.4h.01M363.0 68.5h.01M281.0 126.7h.01M486.8 106.3h.01M251.1 75.6h.01M257.6 133.1h.01M354.7 76.4h.01M407.6 58.6h.01M349.8 152.6h.01M433.5 154.6h.01M358.9 103.7h.01M418.3 57.6h.01M291.0 67.0h.01M424.0 93.2h.01M396.6 153.3h.01M290.6 17.4h.01M287.7 104.8h.01M452.2 41.4h.01M406.9 53.5h.01M507.5 44.5h.01M285.1 63.7h.01M494.0 68.6h.01M490.8 123.8h.01M265.6 159.8h.01M443.1 147.2h.01M506.6 58.1h.01M268.4 87.2h.01M482.1 27.8h.01M221.2 37.3h.01M383.9 41.8h.01M368.2 71.4h.01M395.3 45.0h.01M380.9 119.7h.01M337.2 161.4h.01M439.5 159.0h.01M464.4 43.2h.01M355.1 144.5h.01M411.6 132.1h.01M346.6 146.3h.01" stroke="#000" stroke-width="1.55" stroke-linecap="round" fill="none"/>
<rect x="220.5" y="15.5" width="294" height="147" fill="none" stroke="#000" stroke-width="0.5"/>
<path d="M220.50 162.5v3.5M220.50 15.5v-3.5M227.85 162.5v1.8M227.85 15.5v-1.8M235.20 162.5v1.8M235.20 15.5v-1.8M242.55 162.5v1.8M242.55 15.5v-1.8M249.90 162.5v1.8M249.90 15.5v-1.8M257.25 162.5v3.5M257.25 15.5v-3.5M264.60 162.5v1.8M264.60 15.5v-1.8M271.95 162.5v1.8M271.95 15.5v-1.8M279.30 162.5v1.8M279.30 15.5v-1.8M286.65 162.5v1.8M286.65 15.5v-1.8M294.00 162.5v3.5M294.00 15.5v-3.5M301.35 162.5v1.8M301.35 15.5v-1.8M308.70 162.5v1.8M308.70 15.5v-1.8M316.05 162.5v1.8M316.05 15.5v-1.8M323.40 162.5v1.8M323.40 15.5v-1.8M330.75 162.5v3.5M330.75 15.5v-3.5M338.10 162.5v1.8M338.10 15.5v-1.8M345.45 162.5v1.8M345.45 15.5v-1.8M352.80 162.5v1.8M352.80 15.5v-1.8M360.15 162.5v1.8M360.15 15.5v-1.8M367.50 162.5v3.5M367.50 15.5v-3.5M374.85 162.5v1.8M374.85 15.5v-1.8M382.20 162.5v1.8M382.20 15.5v-1.8M389.55 162.5v1.8M389.55 15.5v-1.8M396.90 162.5v1.8M396.90 15.5v-1.8M404.25 162.5v3.5M404.25 15.5v-3.5M411.60 162.5v1.8M411.60 15.5v-1.8M418.95 162.5v1.8M418.95 15.5v-1.8M426.30 162.5v1.8M426.30 15.5v-1.8M433.65 162.5v1.8M433.65 15.5v-1.8M441.00 162.5v3.5M441.00 15.5v-3.5M448.35 162.5v1.8M448.35 15.5v-1.8M455.70 162.5v1.8M455.70 15.5v-1.8M463.05 162.5v1.8M463.05 15.5v-1.8M470.40 162.5v1.8M470.40 15.5v-1.8M477.75 162.5v3.5M477.75 15.5v-3.5M485.10 162.5v1.8M485.10 15.5v-1.8M492.45 162.5v1.8M492.45 15.5v-1.8M499.80 162.5v1.8M499.80 15.5v-1.8M507.15 162.5v1.8M507.15 15.5v-1.8M514.50 162.5v3.5M514.50 15.5v-3.5M220.5 162.50h-3.5M514.5 162.50h3.5M220.5 155.15h-1.8M514.5 155.15h1.8M220.5 147.80h-1.8M514.5 147.80h1.8M220.5 140.45h-1.8M514.5 140.45h1.8M220.5 133.10h-1.8M514.5 133.10h1.8M220.5 125.75h-3.5M514.5 125.75h3.5M220.5 118.40h-1.8M514.5 118.40h1.8M220.5 111.05h-1.8M514.5 111.05h1.8M220.5 103.70h-1.8M514.5 103.70h1.8M220.5 96.35h-1.8M514.5 96.35h1.8M220.5 89.00h-3.5M514.5 89.00h3.5M220.5 81.65h-1.8M514.5 81.65h1.8M220.5 74.30h-1.8M514.5 74.30h1.8M220.5 66.95h-1.8M514.5 66.95h1.8M220.5 59.60h-1.8M514.5 59.60h1.8M220.5 52.25h-3.5M514.5 52.25h3.5M220.5 44.90h-1.8M514.5 44.90h1.8M220.5 37.55h-1.8M514.5 37.55h1.8M220.5 30.20h-1.8M514.5 30.20h1.8M220.5 22.85h-1.8M514.5 22.85h1.8M220.5 15.50h-3.5M514.5 15.50h3.5" stroke="#000" stroke-width="0.55" fill="none"/>
<text x="220.5" y="176.4" font-size="12.5" text-anchor="middle">−20</text>
<text x="257.2" y="176.4" font-size="12.5" text-anchor="middle">−15</text>
<text x="294.0" y="176.4" font-size="12.5" text-anchor="middle">−10</text>
<text x="330.8" y="176.4" font-size="12.5" text-anchor="middle">−5</text>
<text x="367.5" y="176.4" font-size="12.5" text-anchor="middle">0</text>
<text x="404.2" y="176.4" font-size="12.5" text-anchor="middle">5</text>
<text x="441.0" y="176.4" font-size="12.5" text-anchor="middle">10</text>
<text x="477.8" y="176.4" font-size="12.5" text-anchor="middle">15</text>
<text x="514.5" y="176.4" font-size="12.5" text-anchor="middle">20</text>
<text x="215" y="166.1" font-size="12.5" text-anchor="end">−20</text>
<text x="215" y="129.3" font-size="12.5" text-anchor="end">−15</text>
<text x="215" y="92.6" font-size="12.5" text-anchor="end">−10</text>
<text x="215" y="55.9" font-size="12.5" text-anchor="end">−5</text>
<text x="215" y="19.1" font-size="12.5" text-anchor="end">0</text>
<text x="367.5" y="188.5" font-size="12.8" text-anchor="middle">Distance (km)</text>
<text transform="translate(192.3,89) rotate(-90)" font-size="12.8" text-anchor="middle">Altitude (km)</text>
<text x="220" y="8" font-size="11.5" font-style="italic">NW</text>
<text x="500" y="8" font-size="11.5" font-style="italic">SE</text>
<text x="181" y="17.5" font-size="21" font-weight="bold">a</text>
<text x="232.5" y="32.6" font-size="15.5" fill="#2863ff">B : Listric</text>
<text x="232.5" y="47.4" font-size="15.5" fill="#28d228">B’: Planar</text>
<text x="227.6" y="156.6" font-size="17.2" fill="#ff00ff">X2</text>
<path d="M329.3 17.3l12.4 12.4M329.3 29.7l12.4 -12.4M337.1 34.6l12.4 12.4M337.1 47.0l12.4 -12.4M346.7 49.8l12.4 12.4M346.7 62.2l12.4 -12.4M361.1 61.4l12.4 12.4M361.1 73.8l12.4 -12.4M377.2 69.6l12.4 12.4M377.2 82.0l12.4 -12.4M394.0 77.0l12.4 12.4M394.0 89.4l12.4 -12.4M410.8 84.2l12.4 12.4M410.8 96.6l12.4 -12.4M427.3 92.0l12.4 12.4M427.3 104.4l12.4 -12.4M444.3 99.6l12.4 12.4M444.3 112.0l12.4 -12.4" stroke="#2863ff" stroke-width="1.5" fill="none"/>
<polyline points="335.5,23.5 347.3,37.5 359.0,51.5 370.8,65.5 382.5,79.5 394.3,93.5 406.1,107.5 417.8,121.5 429.6,135.5" fill="none" stroke="#28d228" stroke-width="1.5"/>
<path d="M329.3 17.3l12.4 12.4M329.3 29.7l12.4 -12.4M341.1 31.3l12.4 12.4M341.1 43.7l12.4 -12.4M352.8 45.3l12.4 12.4M352.8 57.7l12.4 -12.4M364.6 59.3l12.4 12.4M364.6 71.7l12.4 -12.4M376.3 73.3l12.4 12.4M376.3 85.7l12.4 -12.4M388.1 87.3l12.4 12.4M388.1 99.7l12.4 -12.4M399.9 101.3l12.4 12.4M399.9 113.7l12.4 -12.4M411.6 115.3l12.4 12.4M411.6 127.7l12.4 -12.4M423.4 129.3l12.4 12.4M423.4 141.7l12.4 -12.4" stroke="#28d228" stroke-width="1.5" fill="none"/>
<path d="M330 4h14.7l-7.3 12.2z" fill="#6b0000"/>
<text x="46" y="205.9" font-size="21" font-weight="bold">b</text>
<clipPath id="cl"><rect x="45.5" y="222.5" width="293.6" height="122.5"/></clipPath>
<g clip-path="url(#cl)">
<rect x="45.5" y="222.5" width="293.6" height="122.5" fill="#ceffff"/>
<ellipse cx="74.8" cy="311.8" rx="12.8" ry="9.2" fill="#fffe47"/>
<ellipse cx="70.6" cy="319.6" rx="3.6" ry="2.4" fill="#ffeb00"/>
<polygon points="57.9,344.6 65.8,321.5 72.6,323.1 206.6,260.4 245.1,239.5 268.5,222.0 400.0,222.0 400.0,243.0 360.0,243.0 339.5,252.5 336.5,253.6 329.9,256.9 323.4,260.8 316.8,264.8 310.2,269.4 304.2,275.0 300.0,278.3 294.3,280.9 288.2,284.4 279.4,288.8 270.6,294.0 261.9,299.3 253.1,304.5 245.3,309.5 241.0,310.6 237.7,311.8 234.1,313.6 229.2,316.3 224.8,318.5 220.7,321.0 190.0,333.2 185.0,334.3 180.1,336.3 175.6,338.1 168.9,340.3 162.2,344.6" fill="#fffe47"/>
<polygon points="57.9,344.6 65.8,321.5 72.6,323.1 206.6,260.4 245.1,239.5 268.5,222.0 400.0,222.0 400.0,221.0 360.0,221.0 339.5,233.3 333.2,236.8 323.4,242.7 315.0,248.0 310.2,251.0 303.6,255.5 297.0,258.8 291.2,261.5 284.6,266.1 278.0,270.7 271.5,273.8 266.3,275.6 257.5,281.8 248.8,287.9 240.0,295.0 236.8,297.8 231.5,300.5 224.8,303.2 218.9,305.8 210.0,308.7 190.0,318.8 182.4,321.9 177.0,324.5 172.1,326.5 166.7,328.7 160.0,331.4 140.0,339.4 136.8,340.8 132.8,344.6" fill="#ffeb00"/>
<polygon points="57.9,344.6 65.8,321.5 72.6,323.1 206.6,260.4 245.1,239.5 268.5,222.0 400.0,222.0 400.0,222.0 334.5,222.0 326.6,228.2 316.8,236.2 306.9,242.5 297.0,247.5 287.9,251.0 281.4,254.9 274.8,259.5 268.2,264.1 261.6,268.7 255.0,273.2 248.8,277.4 240.0,285.0 232.4,288.9 227.9,290.7 221.2,292.9 215.8,295.2 210.0,297.8 190.0,306.2 186.8,308.0 180.1,311.6 175.2,313.8 169.8,316.0 160.0,319.0 140.0,329.1 134.6,331.8 130.1,334.9 125.6,338.1 121.2,341.2 116.7,344.6" fill="#ffc400"/>
<polygon points="57.9,344.6 65.8,321.5 72.6,323.1 206.6,260.4 245.1,239.5 268.5,222.0 400.0,222.0 400.0,222.0 320.0,222.0 316.8,225.0 306.9,232.9 297.0,239.4 284.0,247.5 281.4,249.0 274.8,252.9 268.2,257.5 261.6,262.2 255.0,266.8 240.0,275.0 236.8,276.5 232.4,278.7 227.9,280.9 221.2,284.5 210.0,287.2 190.0,295.8 177.9,300.7 168.9,305.2 160.0,311.0 156.8,313.4 154.1,315.0 128.2,326.3 123.4,328.7 118.9,330.9 114.3,335.0 110.8,338.1 107.2,340.8 103.2,344.6" fill="#ff9000"/>
<polygon points="57.9,344.6 65.8,321.5 72.6,323.1 206.6,260.4 245.1,239.5 268.5,222.0 400.0,222.0 400.0,222.0 306.9,222.0 300.0,228.2 294.5,232.9 287.9,238.1 281.4,243.4 273.0,248.0 264.9,251.0 258.3,255.6 240.0,266.5 236.8,268.3 229.7,272.0 223.4,275.6 218.0,278.3 210.0,280.5 190.0,291.0 177.9,294.9 168.9,299.6 160.0,302.8 156.8,303.8 153.2,305.4 148.8,307.2 143.4,309.4 138.9,312.1 134.5,315.0 130.0,319.2 125.0,321.9 120.1,324.5 114.5,326.8 110.8,329.1 107.2,332.3 102.8,335.4 98.8,338.1 95.2,340.8 92.0,344.6" fill="#ff4800"/>
<polygon points="57.9,344.6 65.8,321.5 72.6,323.1 206.6,260.4 245.1,239.5 268.5,222.0 400.0,222.0 400.0,222.0 293.9,222.0 287.9,226.3 281.4,230.9 274.8,235.5 264.9,242.7 257.0,249.0 245.0,254.5 236.8,258.9 233.2,260.2 228.8,262.5 218.9,266.5 210.0,269.6 185.0,285.5 175.0,291.0 171.2,293.5 160.0,298.8 155.0,300.0 150.1,302.0 147.0,304.0 143.4,304.5 138.9,305.8 134.5,308.1 130.0,310.8 122.4,315.2 115.6,318.7 108.9,322.8 102.7,327.0 97.4,331.8 93.8,333.6 91.6,336.3 88.5,338.5 87.0,340.8 86.5,344.6" fill="#ff0000"/>
<polygon points="57.9,344.6 65.8,321.5 72.6,323.1 206.6,260.4 205.0,262.0 195.0,268.5 185.0,275.7 175.0,281.0 160.0,289.0 145.6,296.0 141.2,297.3 130.0,299.6 124.0,303.5 117.0,308.0 113.4,309.8 107.2,312.9 100.0,317.4 95.0,323.0 90.3,328.7 85.3,333.0 85.3,344.6" fill="#d50000"/>
<polygon points="205.0,261.2 245.1,239.5 268.5,222.0 276.0,222.0 262.0,232.0 249.0,243.0 212.0,262.6" fill="#d50000"/>
<polygon points="58.5,344.6 60.5,338.5 70.0,336.5 79.0,338.0 84.5,344.6" fill="#ff0000"/>
<polygon points="97.0,314.0 120.0,302.3 150.0,288.3 185.0,271.8 181.0,276.0 166.0,283.5 150.0,291.0 125.0,301.5 105.0,311.5" fill="#9e0000"/>
<polyline points="85.3,345.0 85.3,332.7 87.0,330.5 90.3,328.7 91.0,326.0 93.0,323.5 95.6,324.5 96.5,320.0 100.0,317.4 103.0,316.5 104.5,314.0 107.2,312.9 110.2,311.0 111.7,311.8 113.4,309.8 117.0,308.0 121.9,305.5 124.9,304.0 130.0,302.3 132.7,300.5 135.9,300.5 137.8,301.8 140.3,301.4 141.6,300.2 143.4,300.5 143.9,303.6 146.5,305.4 150.1,304.9 154.6,303.2 160.0,300.5 167.9,296.2 172.0,294.3 178.8,290.0 185.4,288.7 191.3,283.0 197.1,281.5 202.2,276.5 205.9,271.4 210.0,268.7 216.1,265.8 223.4,262.5 230.1,261.6 236.0,262.3 240.0,260.5 246.0,256.5 251.0,253.4 255.0,252.9 260.3,249.6 264.9,248.3 266.2,250.0 268.8,249.3 270.2,250.6 272.8,251.0 274.1,249.3 274.8,251.0 278.1,250.6 282.0,250.3 282.7,252.9 284.0,254.9 287.9,256.2 288.6,258.9 290.6,261.5 289.9,264.1 287.6,266.8 286.9,270.0 287.9,272.7 289.9,275.0 291.7,276.5 293.0,280.0 292.5,284.4 289.0,286.6 282.0,288.3 276.8,287.9 271.5,286.1 266.3,287.0 260.1,290.5 256.6,295.8 255.3,302.8 253.9,308.8 253.9,314.7 256.0,319.8 261.9,322.7 259.7,327.8 262.6,329.3 260.4,334.4 256.0,339.5 250.9,345.0" fill="none" stroke="#000" stroke-width="1.25" stroke-linejoin="round"/>
<polyline points="251.0,246.8 255.0,242.5 259.0,239.5 267.0,234.5 276.5,229.3 282.0,225.0 286.7,222.0" fill="none" stroke="#2a0000" stroke-width="1.25"/>
<polyline points="109.1,299.5 114.0,298.3 119.0,296.0 125.0,291.5 131.8,286.6" fill="none" stroke="#7d0505" stroke-width="2" stroke-linecap="round" stroke-linejoin="round"/>
<polyline points="141.6,276.8 150.0,276.0 158.0,273.5 165.0,270.0 171.5,266.0" fill="none" stroke="#7d0505" stroke-width="2" stroke-linecap="round" stroke-linejoin="round"/>
<polyline points="176.7,268.0 182.0,267.6 188.3,266.3 194.2,262.6 200.0,261.0 205.9,260.4" fill="none" stroke="#7d0505" stroke-width="2" stroke-linecap="round" stroke-linejoin="round"/>
<polyline points="179.6,271.4 181.5,269.0 184.0,267.2" fill="none" stroke="#7d0505" stroke-width="2" stroke-linecap="round" stroke-linejoin="round"/>
<polyline points="155.5,291.8 161.0,288.5 167.9,285.3 175.0,281.0 181.0,275.0" fill="none" stroke="#7d0505" stroke-width="2" stroke-linecap="round" stroke-linejoin="round"/>
<polyline points="80.2,340.5 82.0,334.0 85.0,327.0 89.8,321.8 97.1,315.2 107.3,308.8 112.0,306.0" fill="none" stroke="#7d0505" stroke-width="2" stroke-linecap="round" stroke-linejoin="round"/>
<polygon points="128.0,227.6 129.5,226.3 131.0,227.6 132.3,226.0 134.0,225.7 135.0,227.0 136.4,226.0 137.2,227.4 135.6,228.5 133.4,228.0 131.6,229.0 129.6,228.6" fill="none" stroke="#000" stroke-width="1.1" stroke-linejoin="round"/>
<path d="M225.0 344.3h7M241.0 344.4h2" stroke="#000" stroke-width="1.2"/>
<polyline points="72.6,323.1 128.8,342.5 129.0,346.0" fill="none" stroke="#0c0cee" stroke-width="1.25" stroke-dasharray="6.6 3.3"/>
<polyline points="72.6,323.1 83.0,346.0" fill="none" stroke="#0c0cee" stroke-width="1.25" stroke-dasharray="6.6 3.3"/>
<polyline points="206.6,260.4 218.9,288.0 227.4,305.9 232.8,317.6 175.2,344.6" fill="none" stroke="#0c0cee" stroke-width="1.25" stroke-dasharray="6.6 3.3"/>
<polyline points="209.8,259.0 222.5,288.9 231.5,303.2 235.9,310.0 272.4,288.0" fill="none" stroke="#0c0cee" stroke-width="1.25" stroke-dasharray="6.6 3.3"/>
<polyline points="245.1,239.5 257.6,258.2 264.5,273.0 272.4,288.0" fill="none" stroke="#0c0cee" stroke-width="1.25" stroke-dasharray="6.6 3.3"/>
<polyline points="248.4,237.4 262.2,264.1 268.5,273.0 278.1,287.2 297.0,274.7 337.2,247.7 345.0,242.5" fill="none" stroke="#0c0cee" stroke-width="1.25" stroke-dasharray="6.6 3.3"/>
<polyline points="57.9,344.6 65.8,321.5 72.6,323.1 206.6,260.4 245.1,239.5 268.5,222.0" fill="none" stroke="#0c0cee" stroke-width="2.5" stroke-linejoin="miter"/>
<path d="M248.0 247.1 L250.9 255.4 L259.7 255.6 L252.7 260.9 L255.2 269.4 L248.0 264.3 L240.8 269.4 L243.3 260.9 L236.3 255.6 L245.1 255.4Z M248.0 253.8 L249.3 257.7 L253.3 257.7 L250.0 260.1 L251.3 263.9 L248.0 261.5 L244.7 263.9 L246.0 260.1 L242.7 257.7 L246.7 257.7Z" fill="#ffff14" fill-rule="evenodd"/>
<path d="M91.5 249v-6.4h38v6.4" fill="none" stroke="#333" stroke-width="0.6"/>
<text x="111.2" y="262.5" font-size="18.2" text-anchor="middle">10 km</text>
<rect x="62.8" y="269.1" width="44.8" height="15.6" fill="#fff"/>
<text x="65" y="282.2" font-size="15.6" fill="#2863ff">Listric</text>
</g>
<clipPath id="cr"><rect x="368.5" y="222.5" width="293.6" height="122.5"/></clipPath>
<g clip-path="url(#cr)">
<rect x="368.5" y="222.5" width="293.6" height="122.5" fill="#ceffff"/>
<polygon points="373.0,344.6 375.5,332.0 380.0,320.0 385.0,312.5 392.0,309.5 400.0,309.0 420.0,298.5 440.0,288.2 470.0,270.4 483.2,263.2 496.4,255.9 506.2,251.3 513.0,248.5 530.5,240.5 548.0,232.5 563.8,226.5 571.0,222.0 591.5,222.0 568.1,239.5 529.6,260.4 395.6,323.1 388.8,321.5 380.9,344.6" fill="#aff5ff"/>
<polygon points="380.9,344.6 388.8,321.5 395.6,323.1 529.6,260.4 568.1,239.5 591.5,222.0 700.0,222.0 700.0,282.6 680.0,282.6 662.5,294.5 625.0,320.0 616.2,325.9 606.4,332.5 596.5,338.4 587.9,344.6" fill="#fffe47"/>
<polygon points="380.9,344.6 388.8,321.5 395.6,323.1 529.6,260.4 568.1,239.5 591.5,222.0 700.0,222.0 700.0,236.0 680.0,236.0 662.5,249.0 657.9,252.9 648.0,260.2 638.2,267.4 629.0,275.0 605.0,290.8 596.2,294.7 587.7,301.0 565.0,313.5 556.2,317.4 546.4,322.1 536.5,327.0 512.8,338.3 499.0,344.6" fill="#ffeb00"/>
<polygon points="380.9,344.6 388.8,321.5 395.6,323.1 529.6,260.4 568.1,239.5 591.5,222.0 700.0,222.0 700.0,221.0 670.0,221.0 662.5,226.9 654.6,233.5 644.8,242.1 636.2,248.5 625.0,255.3 616.2,261.5 609.6,266.3 603.1,270.5 597.0,274.0 589.6,277.0 579.8,282.2 569.9,288.2 560.0,294.1 551.0,299.0 547.7,301.0 539.8,304.9 529.9,310.2 520.0,314.2 512.8,317.5 469.0,339.0 461.0,344.6" fill="#ffc400"/>
<polygon points="380.9,344.6 388.8,321.5 395.6,323.1 529.6,260.4 568.1,239.5 591.5,222.0 700.0,222.0 700.0,222.0 644.8,222.0 634.9,229.6 631.2,232.9 621.4,240.1 611.0,247.0 606.4,249.6 599.8,252.9 593.2,256.9 586.6,260.8 566.6,273.0 560.0,278.3 556.6,280.5 512.8,303.0 490.0,314.0 469.0,325.5 447.8,344.6" fill="#ff9000"/>
<polygon points="380.9,344.6 388.8,321.5 395.6,323.1 529.6,260.4 568.1,239.5 591.5,222.0 617.4,222.0 617.4,222.0 614.8,223.6 605.0,229.8 595.0,236.2 585.0,243.0 575.0,250.2 570.0,254.5 563.8,258.5 549.2,262.9 534.6,268.7 531.5,268.5 529.3,262.5 527.6,272.5 522.0,278.0 513.0,284.5 505.0,290.5 490.9,297.1 469.0,307.5 455.0,320.0 440.0,333.0 427.4,344.6" fill="#ff4800"/>
<polygon points="396.7,323.8 452.0,297.8 444.0,304.0 433.0,310.5 427.0,315.5 420.1,320.5 417.2,326.3 412.8,332.2 409.9,339.5 408.4,344.6 404.5,344.6 401.8,335.1 398.6,328.5" fill="#ff0000"/>
<ellipse cx="392.6" cy="320.3" rx="5" ry="2.3" fill="#fffe47"/>
<polyline points="408.3,345.0 408.3,332.7 410.0,330.5 413.3,328.7 414.0,326.0 416.0,323.5 418.6,324.5 419.5,320.0 423.0,317.4 426.0,316.5 427.5,314.0 430.2,312.9 433.2,311.0 434.7,311.8 436.4,309.8 440.0,308.0 444.9,305.5 447.9,304.0 453.0,302.3 455.7,300.5 458.9,300.5 460.8,301.8 463.3,301.4 464.6,300.2 466.4,300.5 466.9,303.6 469.5,305.4 473.1,304.9 477.6,303.2 483.0,300.5 490.9,296.2 495.0,294.3 501.8,290.0 508.4,288.7 514.3,283.0 520.1,281.5 525.2,276.5 528.9,271.4 533.0,268.7 539.1,265.8 546.4,262.5 553.1,261.6 559.0,262.3 563.0,260.5 569.0,256.5 574.0,253.4 578.0,252.9 583.3,249.6 587.9,248.3 589.2,250.0 591.8,249.3 593.2,250.6 595.8,251.0 597.1,249.3 597.8,251.0 601.1,250.6 605.0,250.3 605.7,252.9 607.0,254.9 610.9,256.2 611.6,258.9 613.6,261.5 612.9,264.1 610.6,266.8 609.9,270.0 610.9,272.7 612.9,275.0 614.7,276.5 616.0,280.0 615.5,284.4 612.0,286.6 605.0,288.3 599.8,287.9 594.5,286.1 589.3,287.0 583.1,290.5 579.6,295.8 578.3,302.8 576.9,308.8 576.9,314.7 579.0,319.8 584.9,322.7 582.7,327.8 585.6,329.3 583.4,334.4 579.0,339.5 573.9,345.0" fill="none" stroke="#000" stroke-width="1.25" stroke-linejoin="round"/>
<polyline points="574.0,246.8 578.0,242.5 582.0,239.5 590.0,234.5 599.5,229.3 605.0,225.0 609.7,222.0" fill="none" stroke="#2a0000" stroke-width="1.25"/>
<polyline points="432.1,299.5 437.0,298.3 442.0,296.0 448.0,291.5 454.8,286.6" fill="none" stroke="#7d0505" stroke-width="2" stroke-linecap="round" stroke-linejoin="round"/>
<polyline points="464.6,276.8 473.0,276.0 481.0,273.5 488.0,270.0 494.5,266.0" fill="none" stroke="#7d0505" stroke-width="2" stroke-linecap="round" stroke-linejoin="round"/>
<polyline points="499.7,268.0 505.0,267.6 511.3,266.3 517.2,262.6 523.0,261.0 528.9,260.4" fill="none" stroke="#7d0505" stroke-width="2" stroke-linecap="round" stroke-linejoin="round"/>
<polyline points="502.6,271.4 504.5,269.0 507.0,267.2" fill="none" stroke="#7d0505" stroke-width="2" stroke-linecap="round" stroke-linejoin="round"/>
<polyline points="478.5,291.8 484.0,288.5 490.9,285.3 498.0,281.0 504.0,275.0" fill="none" stroke="#7d0505" stroke-width="2" stroke-linecap="round" stroke-linejoin="round"/>
<polyline points="403.2,340.5 405.0,334.0 408.0,327.0 412.8,321.8 420.1,315.2 430.3,308.8 435.0,306.0" fill="none" stroke="#7d0505" stroke-width="2" stroke-linecap="round" stroke-linejoin="round"/>
<polygon points="451.0,227.6 452.5,226.3 454.0,227.6 455.3,226.0 457.0,225.7 458.0,227.0 459.4,226.0 460.2,227.4 458.6,228.5 456.4,228.0 454.6,229.0 452.6,228.6" fill="none" stroke="#000" stroke-width="1.1" stroke-linejoin="round"/>
<path d="M548.0 344.3h7M564.0 344.4h2" stroke="#000" stroke-width="1.2"/>
<polyline points="396.7,323.8 439.1,338.7 437.6,346.0" fill="none" stroke="#22c81e" stroke-width="1.25" stroke-dasharray="6.6 3.3"/>
<polyline points="396.7,323.8 407.0,346.0" fill="none" stroke="#22c81e" stroke-width="1.25" stroke-dasharray="6.6 3.3"/>
<polyline points="530.2,261.1 540.5,284.0 551.0,307.6 522.6,320.7 471.9,344.1 468.0,346.0" fill="none" stroke="#22c81e" stroke-width="1.25" stroke-dasharray="6.6 3.3"/>
<polyline points="533.0,259.8 543.5,284.0 555.6,304.9 557.2,306.6 563.5,303.6 590.3,288.2 594.9,285.5" fill="none" stroke="#22c81e" stroke-width="1.25" stroke-dasharray="6.6 3.3"/>
<polyline points="573.3,249.0 587.7,273.0 594.9,285.5" fill="none" stroke="#22c81e" stroke-width="1.25" stroke-dasharray="6.6 3.3"/>
<polyline points="576.0,247.5 591.6,273.0 597.5,282.2 603.5,278.9 609.0,274.0 625.0,263.5 649.4,247.0 662.5,237.5 670.0,232.0" fill="none" stroke="#22c81e" stroke-width="1.25" stroke-dasharray="6.6 3.3"/>
<path d="M568.2 238.8L573.3 249" stroke="#18cc0c" stroke-width="1.4" fill="none"/>
<polyline points="380.9,344.6 388.8,321.5 395.6,323.1 529.6,260.4 568.1,239.5 591.5,222.0" fill="none" stroke="#18cc0c" stroke-width="2.5" stroke-linejoin="miter"/>
<path d="M575.4 253.3 L578.3 261.6 L587.1 261.8 L580.1 267.1 L582.6 275.6 L575.4 270.5 L568.2 275.6 L570.7 267.1 L563.7 261.8 L572.5 261.6Z M575.4 260.0 L576.7 263.9 L580.7 263.9 L577.4 266.3 L578.7 270.1 L575.4 267.8 L572.1 270.1 L573.4 266.3 L570.1 263.9 L574.1 263.9Z" fill="#ffff14" fill-rule="evenodd"/>
<path d="M414.5 249v-6.4h38v6.4" fill="none" stroke="#333" stroke-width="0.6"/>
<text x="434.2" y="262.5" font-size="18.2" text-anchor="middle">10 km</text>
<rect x="387.2" y="269.1" width="44.8" height="15.6" fill="#fff"/>
<text x="389.4" y="282.2" font-size="15.6" fill="#22c022">Planar</text>
</g>
<rect x="45.5" y="222.5" width="293.6" height="122.5" fill="none" stroke="#1a2222" stroke-width="0.8"/>
<path d="M77.14 345v2.7M77.14 222.5v-2.7M109.86 345v2.7M109.86 222.5v-2.7M142.58 345v2.7M142.58 222.5v-2.7M175.30 345v5M175.30 222.5v-5M208.02 345v2.7M208.02 222.5v-2.7M240.74 345v2.7M240.74 222.5v-2.7M273.46 345v2.7M273.46 222.5v-2.7M306.18 345v2.7M306.18 222.5v-2.7M338.90 345v5M338.90 222.5v-5M45.5 222.30h-2.7M339.1 222.30h2.7M45.5 263.30h-5M339.1 263.30h5M45.5 304.30h-2.7M339.1 304.30h2.7M45.5 345.30h-2.7M339.1 345.30h2.7" stroke="#000" stroke-width="0.6" fill="none"/>
<rect x="368.5" y="222.5" width="293.6" height="122.5" fill="none" stroke="#1a2222" stroke-width="0.8"/>
<path d="M400.14 345v2.7M400.14 222.5v-2.7M432.86 345v2.7M432.86 222.5v-2.7M465.58 345v2.7M465.58 222.5v-2.7M498.30 345v5M498.30 222.5v-5M531.02 345v2.7M531.02 222.5v-2.7M563.74 345v2.7M563.74 222.5v-2.7M596.46 345v2.7M596.46 222.5v-2.7M629.18 345v2.7M629.18 222.5v-2.7M661.90 345v5M661.90 222.5v-5M368.5 222.30h-2.7M662.1 222.30h2.7M368.5 263.30h-5M662.1 263.30h5M368.5 304.30h-2.7M662.1 304.30h2.7M368.5 345.30h-2.7M662.1 345.30h2.7" stroke="#000" stroke-width="0.6" fill="none"/>
<text x="1.7" y="269.3" font-size="17.9">37.5</text>
<circle cx="35.4" cy="258.6" r="1.35" fill="none" stroke="#000" stroke-width="0.65"/>
<text x="153.0" y="364.7" font-size="17.9">137.0</text>
<circle cx="195.6" cy="354.0" r="1.35" fill="none" stroke="#000" stroke-width="0.65"/>
<text x="316.1" y="364.7" font-size="17.9">137.5</text>
<circle cx="358.7" cy="354.0" r="1.35" fill="none" stroke="#000" stroke-width="0.65"/>
<text x="476.4" y="364.7" font-size="17.9">137.0</text>
<circle cx="519.0" cy="354.0" r="1.35" fill="none" stroke="#000" stroke-width="0.65"/>
<text x="640.8" y="364.7" font-size="17.9">137.5</text>
<circle cx="683.4" cy="354.0" r="1.35" fill="none" stroke="#000" stroke-width="0.65"/>
<rect x="195.50" y="378" width="20.64" height="9" fill="#040ed8"/>
<rect x="215.84" y="378" width="20.64" height="9" fill="#2050ff"/>
<rect x="236.19" y="378" width="20.64" height="9" fill="#4196ff"/>
<rect x="256.53" y="378" width="20.64" height="9" fill="#6dc1ff"/>
<rect x="276.88" y="378" width="20.64" height="9" fill="#86d9ff"/>
<rect x="297.22" y="378" width="20.64" height="9" fill="#9ceeff"/>
<rect x="317.56" y="378" width="20.64" height="9" fill="#aff5ff"/>
<rect x="337.91" y="378" width="20.64" height="9" fill="#ceffff"/>
<rect x="358.25" y="378" width="20.64" height="9" fill="#fffe47"/>
<rect x="378.59" y="378" width="20.64" height="9" fill="#ffeb00"/>
<rect x="398.94" y="378" width="20.64" height="9" fill="#ffc400"/>
<rect x="419.28" y="378" width="20.64" height="9" fill="#ff9000"/>
<rect x="439.62" y="378" width="20.64" height="9" fill="#ff4800"/>
<rect x="459.97" y="378" width="20.64" height="9" fill="#ff0000"/>
<rect x="480.31" y="378" width="20.64" height="9" fill="#d50000"/>
<rect x="500.66" y="378" width="20.64" height="9" fill="#9e0000"/>
<path d="M195.5 378L186.6 382.5L195.5 387z" fill="#040ed8"/>
<path d="M521 378L530.3 382.5L521 387z" fill="#9e0000"/>
<path d="M195.5 378L521 378L530.3 382.5L521 387L195.5 387L186.6 382.5z" fill="none" stroke="#000" stroke-width="0.4"/>
<path d="M195.50 387v4M215.84 387v2.5M236.19 387v4M256.53 387v2.5M276.88 387v4M297.22 387v2.5M317.56 387v4M337.91 387v2.5M358.25 387v4M378.59 387v2.5M398.94 387v4M419.28 387v2.5M439.62 387v4M459.97 387v2.5M480.31 387v4M500.66 387v2.5M521.00 387v4" stroke="#000" stroke-width="0.6" fill="none"/>
<path d="M176.0 399.2H186.2" stroke="#000" stroke-width="1.15"/>
<text x="186.4" y="405" font-size="18.1">480</text>
<path d="M216.7 399.2H226.9" stroke="#000" stroke-width="1.15"/>
<text x="227.1" y="405" font-size="18.1">360</text>
<path d="M257.4 399.2H267.6" stroke="#000" stroke-width="1.15"/>
<text x="267.8" y="405" font-size="18.1">240</text>
<path d="M298.1 399.2H308.3" stroke="#000" stroke-width="1.15"/>
<text x="308.5" y="405" font-size="18.1">120</text>
<text x="358.2" y="405" font-size="18.1" text-anchor="middle">0</text>
<text x="398.9" y="405" font-size="18.1" text-anchor="middle">120</text>
<text x="439.6" y="405" font-size="18.1" text-anchor="middle">240</text>
<text x="480.3" y="405" font-size="18.1" text-anchor="middle">360</text>
<text x="521.0" y="405" font-size="18.1" text-anchor="middle">480</text>
<text x="177.5" y="387.7" font-size="17.9" text-anchor="end">Down</text>
<text x="537.3" y="387.7" font-size="17.9">Up</text>
<text x="358.5" y="420.4" font-size="17.9" text-anchor="middle">(cm)</text>
</svg>
</body></html>
